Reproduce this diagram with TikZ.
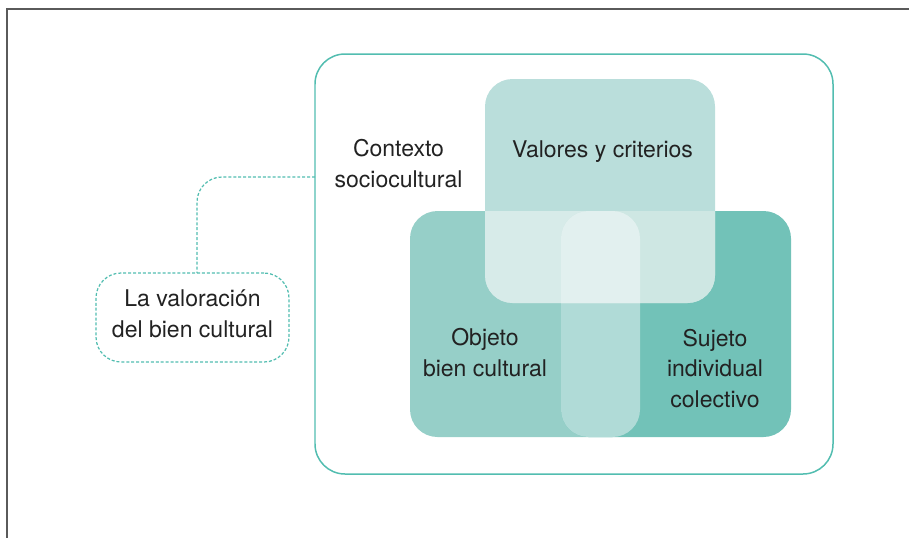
\documentclass[tikz,border=0pt]{standalone}
\usepackage{fontspec}
\setmainfont{TeX Gyre Heros}
\usetikzlibrary{calc,positioning}
\definecolor{teal1}{HTML}{52BDB0}
\definecolor{valcol}{HTML}{BADEDB}
\definecolor{objcol}{HTML}{96CFC8}
\definecolor{sujcol}{HTML}{72C2B8}
\definecolor{pillcol}{HTML}{B0DBD7}
\definecolor{valobj}{HTML}{D7EBE9}
\definecolor{valsuj}{HTML}{CEE7E3}
\definecolor{valpill}{HTML}{E2F0EF}
\definecolor{txt}{HTML}{222222}
\definecolor{frame}{HTML}{5A5A5A}

\begin{document}
\begin{tikzpicture}[every node/.style={text=txt, font=\fontsize{13.1}{17.6}\selectfont}]
	\tikzstyle{bigbox} = [rectangle, rounded corners=0.6cm, minimum width=10.36cm, minimum height=8.40cm, inner sep=0, outer sep=0, draw=teal1, line width=0.85pt]
	\tikzstyle{part} = [rectangle, rounded corners=0.55cm, minimum width=4.60cm, minimum height=4.52cm, inner sep=0, outer sep=0]
	\tikzstyle{pillbox} = [rectangle, rounded corners=0.55cm, minimum width=1.58cm, minimum height=4.52cm, inner sep=0, outer sep=0, fill=pillcol]
	\tikzstyle{dashbox} = [rectangle, rounded corners=0.5cm, minimum width=3.86cm, minimum height=1.78cm, inner sep=0, outer sep=0, draw=teal1, line width=0.7pt, dash pattern=on 1.7pt off 1.1pt]
	\tikzstyle{dashline} = [draw=teal1, line width=0.7pt, dash pattern=on 1.7pt off 1.1pt]
	\tikzstyle{lbl} = [align=center, inner sep=0]
	\useasboundingbox (0,0) rectangle (18.18,-10.76);
	% frame
	\draw[frame, line width=1.1pt] (18.18,-0.18) -- (0.14,-0.18) -- (0.14,-10.76);
	% context
	\node (outer) at (11.48,-5.28) [bigbox] {};
	% objeto and sujeto
	\node (objeto) at ($(outer.center)+(-0.98,-1.20)$) [part, fill=objcol] {};
	\node (sujeto) at ($(objeto.center)+(3.02,0)$) [part, fill=sujcol] {};
	\node (pill) at ($(objeto.center)+(1.51,0)$) [pillbox] {};
	% valores
	\node (valores) at ($(outer.center)+(0.52,1.46)$) [part, minimum height=4.48cm, fill=valcol] {};
	\begin{scope}
		\clip[rounded corners=0.55cm] (valores.south west) rectangle (valores.north east);
		\fill[valobj, rounded corners=0.55cm] (objeto.south west) rectangle (objeto.north east);
		\fill[valsuj, rounded corners=0.55cm] (sujeto.south west) rectangle (sujeto.north east);
		\fill[valpill, rounded corners=0.55cm] (pill.south west) rectangle (pill.north east);
	\end{scope}
	% label
	\node (label) at ($(outer.west)+(-2.45,-1.07)$) [dashbox] {};
	\node (labeltext) at ($(label.center)+(0,0.08)$) [lbl] {La valoración\\del bien cultural};
	\coordinate (ctx) at ($(outer.west)+(0,1.74)$);
	\draw[dashline, rounded corners=0.5cm] (ctx) -| ($(label.north)+(0.09,0)$);
	% texts
	\node (ctxtext) at ($(outer.north west)+(1.67,-2.20)$) [lbl] {Contexto\\sociocultural};
	\node (valtext) at ($(valores.north)+(0.05,-1.46)$) [lbl] {Valores y criterios};
	\node (objtext) at ($(objeto.center)+(-0.80,-0.58)$) [lbl] {Objeto\\bien cultural};
	\node (sujtext) at ($(sujeto.center)+(0.78,-0.89)$) [lbl] {Sujeto\\individual\\colectivo};
\end{tikzpicture}
\end{document}
